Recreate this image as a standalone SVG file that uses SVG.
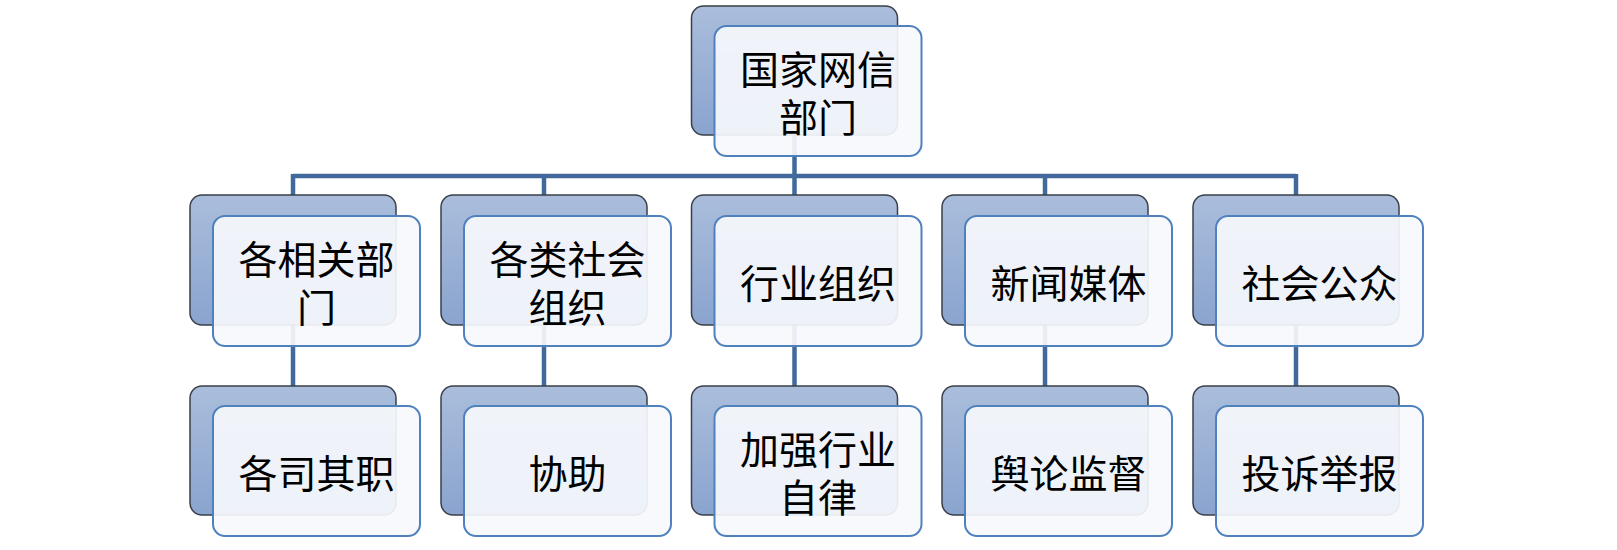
<svg xmlns="http://www.w3.org/2000/svg" width="1617" height="550" viewBox="0 0 1617 550">
  <defs>
    <linearGradient id="bk" x1="0" y1="0" x2="0" y2="1">
      <stop offset="0" stop-color="#AABDDB"/>
      <stop offset="1" stop-color="#8AA4CF"/>
    </linearGradient>
    <style>
      .back { fill: url(#bk); stroke: #3A3F48; stroke-width: 1.5; }
      .front { fill: #F6F8FC; fill-opacity: 0.92; stroke: #4F81BD; stroke-width: 2; }
      .lbl { font-family: "Noto Sans CJK SC", "Liberation Sans", sans-serif; font-size: 39px; fill: #000; text-anchor: middle; dominant-baseline: central; }
      .conn { fill: none; stroke: #41699C; stroke-width: 4.5; }
    </style>
  </defs>
  <rect width="1617" height="550" fill="#FFFFFF"/>
  <g id="connectors">
    <path class="conn" d="M794.5 135 V176 M293 176 H1296 M293 174 V196 M544 174 V196 M794.5 174 V196 M1045 174 V196 M1296 174 V196"/>
    <path class="conn" d="M293 325 V387 M544 325 V387 M794.5 325 V387 M1045 325 V387 M1296 325 V387"/>
  </g>
  <g id="n-top">
    <rect class="back" x="691.5" y="6" width="206" height="129" rx="12"/>
    <rect class="front" x="714.5" y="26" width="207" height="130" rx="12"/>
    <text class="lbl" x="818" y="67">国家网信<tspan x="818" dy="48">部门</tspan></text>
  </g>
  <g id="n-r1c1">
    <rect class="back" x="190" y="195" width="206" height="130" rx="12"/>
    <rect class="front" x="213" y="216" width="207" height="130" rx="12"/>
    <text class="lbl" x="316.5" y="257">各相关部<tspan x="316.5" dy="48">门</tspan></text>
  </g>
  <g id="n-r1c2">
    <rect class="back" x="441" y="195" width="206" height="130" rx="12"/>
    <rect class="front" x="464" y="216" width="207" height="130" rx="12"/>
    <text class="lbl" x="567.5" y="257">各类社会<tspan x="567.5" dy="48">组织</tspan></text>
  </g>
  <g id="n-r1c3">
    <rect class="back" x="691.5" y="195" width="206" height="130" rx="12"/>
    <rect class="front" x="714.5" y="216" width="207" height="130" rx="12"/>
    <text class="lbl" x="818" y="281">行业组织</text>
  </g>
  <g id="n-r1c4">
    <rect class="back" x="942" y="195" width="206" height="130" rx="12"/>
    <rect class="front" x="965" y="216" width="207" height="130" rx="12"/>
    <text class="lbl" x="1068.5" y="281">新闻媒体</text>
  </g>
  <g id="n-r1c5">
    <rect class="back" x="1193" y="195" width="206" height="130" rx="12"/>
    <rect class="front" x="1216" y="216" width="207" height="130" rx="12"/>
    <text class="lbl" x="1319.5" y="281">社会公众</text>
  </g>
  <g id="n-r2c1">
    <rect class="back" x="190" y="386" width="206" height="129" rx="12"/>
    <rect class="front" x="213" y="406" width="207" height="130" rx="12"/>
    <text class="lbl" x="316.5" y="471">各司其职</text>
  </g>
  <g id="n-r2c2">
    <rect class="back" x="441" y="386" width="206" height="129" rx="12"/>
    <rect class="front" x="464" y="406" width="207" height="130" rx="12"/>
    <text class="lbl" x="567.5" y="471">协助</text>
  </g>
  <g id="n-r2c3">
    <rect class="back" x="691.5" y="386" width="206" height="129" rx="12"/>
    <rect class="front" x="714.5" y="406" width="207" height="130" rx="12"/>
    <text class="lbl" x="818" y="447">加强行业<tspan x="818" dy="48">自律</tspan></text>
  </g>
  <g id="n-r2c4">
    <rect class="back" x="942" y="386" width="206" height="129" rx="12"/>
    <rect class="front" x="965" y="406" width="207" height="130" rx="12"/>
    <text class="lbl" x="1068.5" y="471">舆论监督</text>
  </g>
  <g id="n-r2c5">
    <rect class="back" x="1193" y="386" width="206" height="129" rx="12"/>
    <rect class="front" x="1216" y="406" width="207" height="130" rx="12"/>
    <text class="lbl" x="1319.5" y="471">投诉举报</text>
  </g>
</svg>
